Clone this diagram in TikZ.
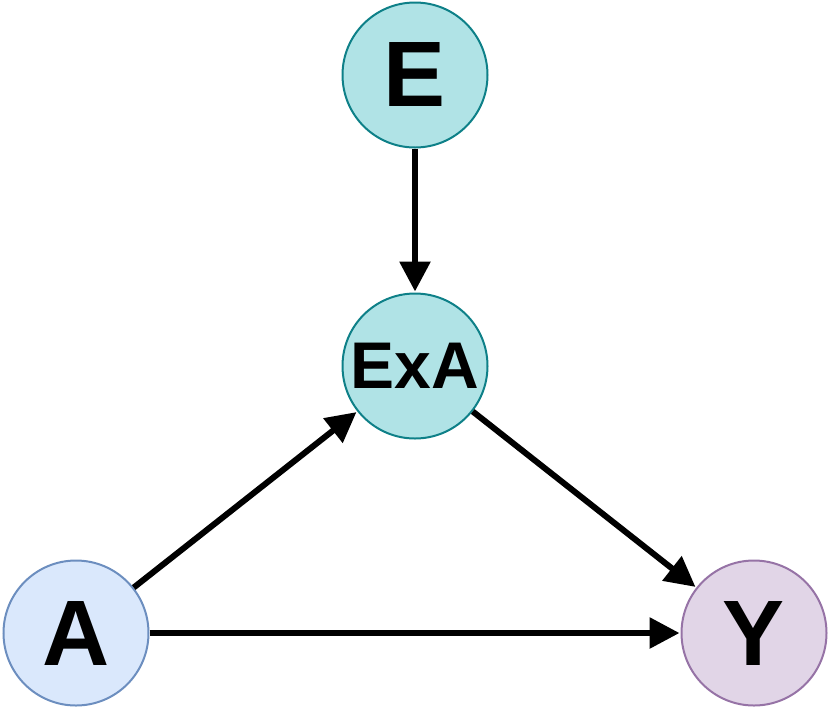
\documentclass[tikz,border=0pt]{standalone}
\usepackage{fontspec}
\setmainfont{Liberation Sans}
\usetikzlibrary{arrows.meta}
\definecolor{tealfill}{HTML}{B0E3E6}
\definecolor{tealline}{HTML}{0E8088}
\definecolor{bluefill}{HTML}{DAE8FC}
\definecolor{blueline}{HTML}{6C8EBF}
\definecolor{purpfill}{HTML}{E1D5E7}
\definecolor{purpline}{HTML}{9673A6}

\begin{document}
\begin{tikzpicture}[x=1pt,y=-1pt,>={Triangle[length=30pt,width=30pt]},
    var/.style={circle,draw,line width=2pt,minimum size=145pt,inner sep=0pt,font=\bfseries\fontsize{93}{93}\selectfont},
    link/.style={->,line width=6pt,shorten >=1pt}]

\useasboundingbox (0,0) rectangle (830,716);

\node[var,fill=tealfill,draw=tealline] (E)   at (415,75)  {E};
\node[var,fill=tealfill,draw=tealline,font=\bfseries\fontsize{66}{66}\selectfont] (ExA) at (415,366) {ExA};
\node[var,fill=bluefill,draw=blueline] (A)   at (76,633)  {A};
\node[var,fill=purpfill,draw=purpline] (Y)   at (754,633) {Y};

\draw[link] (E) -- (ExA);
\draw[link] (A) -- (ExA);
\draw[link] (ExA) -- (Y);
\draw[link] (A) -- (Y);

\end{tikzpicture}
\end{document}
